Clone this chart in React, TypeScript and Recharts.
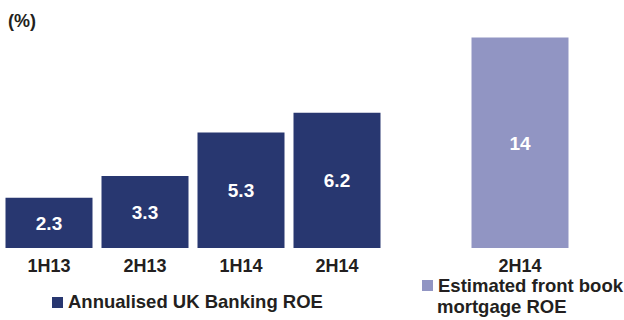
import { BarChart, Bar, XAxis, YAxis, LabelList } from 'recharts';

const periods = ['1H13', '2H13', '1H14', '2H14'];
const bankingRoe = [2.3, 3.3, 5.3, 6.2];
const mortgagePeriods = ['2H14'];
const mortgageRoe = [14];

const NAVY = '#283770';
const LILAC = '#9195C3';
const TEXT = '#231F20';
const FONT = '"Liberation Sans", Arial, sans-serif';

const bankingData = periods.map((p, i) => ({ period: p, roe: bankingRoe[i] }));
const mortgageData = mortgagePeriods.map((p, i) => ({ period: p, roe: mortgageRoe[i] }));

const tickStyle = { fill: TEXT, fontSize: 18, fontWeight: 700, fontFamily: FONT };
const labelStyle = { fill: '#fff', fontSize: 19, fontWeight: 700, fontFamily: FONT };

function Swatch({ color }: { color: string }) {
  return <span style={{ display: 'inline-block', width: 11, height: 11, background: color, marginRight: 5 }} />;
}

export default function App() {
  return (
    <div style={{ position: 'absolute', left: 0, top: 0, width: 624, height: 320, fontFamily: FONT, background: '#fff' }}>
      <div style={{ position: 'absolute', left: 8, top: 11, fontSize: 18, fontWeight: 700, color: TEXT }}>(%)</div>

      {/* current banking ROE, own scale */}
      <div style={{ position: 'absolute', left: 0, top: 0 }}>
        <BarChart width={390} height={280} data={bankingData} margin={{ top: 30, right: 5, left: 1, bottom: 2 }} barCategoryGap={4.5}>
          <XAxis dataKey="period" axisLine={false} tickLine={false} tick={tickStyle} tickMargin={5} height={30} interval={0} />
          <YAxis hide domain={[0, 10]} />
          <Bar dataKey="roe" fill={NAVY} isAnimationActive={false}>
            <LabelList dataKey="roe" position="center" style={labelStyle} />
          </Bar>
        </BarChart>
      </div>

      {/* front book mortgage ROE, separate scale */}
      <div style={{ position: 'absolute', left: 440, top: 0 }}>
        <BarChart width={160} height={280} data={mortgageData} margin={{ top: 30, right: 0, left: 0, bottom: 2 }} barCategoryGap={31.5}>
          <XAxis dataKey="period" axisLine={false} tickLine={false} tick={tickStyle} tickMargin={5} height={30} interval={0} />
          <YAxis hide domain={[0, 14.5]} />
          <Bar dataKey="roe" fill={LILAC} isAnimationActive={false}>
            <LabelList dataKey="roe" position="center" style={labelStyle} />
          </Bar>
        </BarChart>
      </div>

      <div style={{ position: 'absolute', left: 52, top: 291, fontSize: 18.5, fontWeight: 700, color: TEXT, display: 'flex', alignItems: 'center', whiteSpace: 'nowrap' }}>
        <Swatch color={NAVY} />
        Annualised UK Banking ROE
      </div>
      <div style={{ position: 'absolute', left: 422, top: 275, fontSize: 18.5, fontWeight: 700, color: TEXT, lineHeight: '21px', whiteSpace: 'nowrap' }}>
        <div style={{ display: 'flex', alignItems: 'center' }}>
          <Swatch color={LILAC} />
          Estimated front book
        </div>
        <div style={{ paddingLeft: 15 }}>mortgage ROE</div>
      </div>
    </div>
  );
}
